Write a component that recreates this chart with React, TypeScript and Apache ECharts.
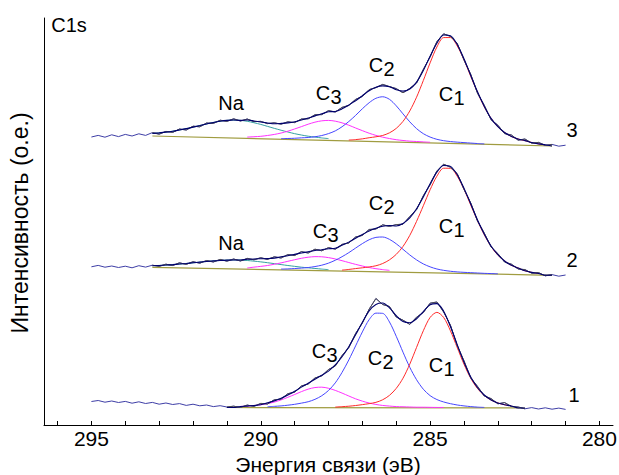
import React, { useEffect, useRef } from "react";
import * as echarts from "echarts";

// Binding energy grid (eV), shared by all spectra
const energies = [
  295, 294.8, 294.6, 294.4, 294.2, 294, 293.8, 293.6, 293.4, 293.2,
  293, 292.8, 292.6, 292.4, 292.2, 292, 291.8, 291.6, 291.4, 291.2,
  291, 290.8, 290.6, 290.4, 290.2, 290, 289.8, 289.6, 289.4, 289.2,
  289, 288.8, 288.6, 288.4, 288.2, 288, 287.8, 287.6, 287.4, 287.2,
  287, 286.8, 286.6, 286.4, 286.2, 286, 285.8, 285.6, 285.4, 285.2,
  285, 284.8, 284.6, 284.4, 284.2, 284, 283.8, 283.6, 283.4, 283.2,
  283, 282.8, 282.6, 282.4, 282.2, 282, 281.8, 281.6, 281.4, 281.2, 281,
];

const xTickLabels = [280, 285, 290, 295];
const xTicks = [280, 281, 282, 283, 284, 285, 286, 287, 288, 289, 290, 291, 292, 293, 294, 295, 296];

// ---------- Spectrum 1 (bottom) ----------
const s1Raw = [
  22.5, 23.5, 21.8, 23.0, 21.5, 22.6, 20.8, 22.2, 20.5, 21.6, 19.8, 21.0, 19.5, 20.4, 18.6, 19.8, 18.2, 19.0, 17.4, 18.3, 17.0,
  17.8, 16.6, 18.9, 17.6, 20.6, 20.0, 24.2, 24.9, 30.3, 31.8, 38.0, 40.0, 46.0, 48.2, 54.5, 58.0, 68.5, 76.5, 90.5, 101.0,
  114.8, 125.5, 119.5, 117.5, 107.0, 103.8, 99.6, 106.8, 111.5, 120.8, 122.0, 112.0, 98.8, 78.5, 63.2, 46.0, 37.6, 28.0, 25.4, 20.2,
  21.4, 17.5, 17.0, 15.2,
  16.4, 15.0, 16.2, 14.8, 15.9, 14.6,
];
const s1Baseline = [[291.0, 16.5], [282.2, 16.0]];
const s1C3Start = 22;
const s1C3 = [1.1, 1.4, 2.0, 2.8, 4.0, 5.5, 7.7, 10.3, 13.1, 16.0, 18.5, 20.1, 20.5, 19.4, 17.3, 14.6, 11.7, 8.9, 6.6, 4.7, 3.3, 2.3, 1.7, 1.2, 1.0, 0.8, 0.6, 0.6, 0.5, 0.4, 0.4];
const s1C2Start = 26;
const s1C2 = [0.8, 1.2, 1.7, 2.4, 3.3, 4.5, 5.9, 8.3, 11.9, 17.2, 24.8, 35.3, 47.8, 61.8, 75.8, 88.1, 94.6, 94.4, 85.8, 71.5, 55.6, 40.5, 28.1, 18.6, 12.2, 8.3, 5.9, 4.2, 2.9, 2.0, 1.3, 0.8, 0.5];
const s1C1Start = 36;
const s1C1 = [0.6, 1.0, 1.5, 2.2, 3.1, 4.1, 5.4, 8.0, 12.4, 19.4, 29.6, 43.7, 60.4, 77.1, 90.4, 95.5, 90.4, 77.1, 60.4, 43.7, 29.6, 19.4, 12.4, 8.0, 5.0, 3.2, 2.0];

// ---------- Spectrum 2 (middle) ----------
const s2Raw = [
  157.2, 158.6, 156.8, 158.0, 156.5, 157.8, 156.2, 158.3, 156.9,
  158.8, 157.6, 159.8, 158.5, 161.2, 159.6, 162.3, 160.8, 163.5, 162.0,
  164.6, 162.8, 165.0, 163.0, 165.6, 164.2, 166.3, 164.6, 167.2, 166.0,
  169.4, 168.5, 172.4, 171.0, 174.8, 173.2, 176.4, 174.8, 179.6, 181.0,
  187.0, 188.6, 194.5, 195.0, 199.2, 197.6, 199.4, 199.8, 207.5, 214.4,
  228.3, 239.2, 253.0, 259.8, 256.8, 250.4, 234.8, 221.0, 203.0, 190.8,
  177.0, 170.4, 162.0, 159.8, 155.0, 154.4, 150.8, 151.4, 148.2, 149.4,
  147.8, 149.0,
];
const s2Baseline = [[293.2, 156.7], [281.4, 148.7]];
const s2NaStart = 9;
const s2Na = [1.6, 2.0, 2.5, 3.1, 3.8, 4.5, 5.3, 6.1, 6.9, 7.6, 8.2, 8.7, 9.0, 9.0, 8.7, 8.2, 7.6, 6.9, 6.1, 5.3, 4.5, 3.8, 3.1, 2.6, 2.1, 1.6, 1.2];
const s2C3Start = 23;
const s2C3 = [1.2, 2.2, 3.1, 4.1, 5.5, 7.0, 8.7, 10.4, 12.0, 13.2, 13.9, 13.9, 13.2, 12.0, 10.4, 8.7, 7.0, 5.5, 4.1, 3.1, 2.3, 1.7];
const s2C2Start = 28;
const s2C2 = [0.8, 1.1, 1.6, 2.2, 2.9, 4.0, 5.5, 7.7, 10.7, 14.4, 18.6, 23.3, 27.9, 31.9, 34.4, 34.9, 32.7, 28.4, 23.0, 17.5, 12.7, 8.8, 6.0, 4.0, 2.8, 2.0, 1.5, 1.2, 1.0, 0.8, 0.6, 0.5, 0.4];
const s2C1Start = 37;
const s2C1 = [1.0, 1.8, 2.8, 3.7, 4.7, 6.0, 8.4, 12.2, 17.8, 25.9, 37.1, 51.2, 67.0, 83.1, 96.8, 104.9, 104.9, 97.2, 84.2, 68.6, 53.0, 39.2, 27.6, 19.1, 13.3, 9.2, 6.6, 4.0, 2.5, 1.5];

// ---------- Spectrum 3 (top) ----------
const s3Raw = [
  287.0, 288.6, 286.8, 289.2, 287.4, 289.6, 288.0, 290.2, 288.6,
  291.4, 289.8, 292.6, 291.6, 295.0, 294.0, 297.8, 297.2, 301.0, 300.6,
  303.8, 302.6, 305.2, 303.0, 305.0, 302.4, 302.6, 300.4, 301.2, 299.8,
  302.2, 301.4, 305.0, 305.2, 309.2, 309.4, 313.4, 312.0, 316.6, 318.6,
  324.6, 327.6, 334.4, 336.4, 339.6, 337.4, 335.4, 331.2, 335.6, 341.0,
  354.6, 367.2, 382.4, 390.2, 387.6, 380.6, 364.2, 349.6, 330.8, 318.6,
  304.2, 298.8, 290.4, 289.0, 283.8, 285.0, 280.8, 281.6, 278.6, 279.6,
  277.8, 278.8,
];
const s3Baseline = [[293.2, 288.0], [281.4, 278.0]];
const s3NaStart = 9;
const s3Na = [2.5, 3.3, 4.2, 5.3, 6.7, 8.2, 9.9, 11.6, 13.4, 15.1, 16.5, 17.5, 18.0, 17.8, 17.1, 15.8, 14.3, 12.5, 10.7, 9.0, 7.4, 5.9, 4.7, 3.7, 3.0, 2.3, 1.8];
const s3C3Start = 23;
const s3C3 = [1.3, 1.8, 2.4, 3.4, 4.6, 6.2, 8.2, 10.6, 13.1, 15.7, 17.9, 19.4, 20.0, 19.4, 17.9, 15.7, 13.1, 10.6, 8.2, 6.2, 4.6, 3.4, 2.4, 1.8, 1.3, 1.1, 0.9, 0.7];
const s3C2Start = 28;
const s3C2 = [0.6, 0.9, 1.3, 1.9, 2.4, 3.3, 4.7, 6.8, 9.7, 14.0, 19.4, 25.7, 32.5, 38.7, 43.3, 45.0, 42.6, 36.3, 28.4, 20.6, 14.0, 9.1, 5.9, 3.8, 2.6, 1.9, 1.5, 1.2, 0.9, 0.6, 0.4];
const s3C1Start = 38;
const s3C1 = [0.9, 1.5, 2.4, 3.7, 4.8, 6.3, 9.1, 13.7, 20.9, 31.5, 45.4, 62.3, 80.1, 96.1, 105.7, 105.9, 97.7, 83.9, 67.6, 51.7, 37.5, 26.1, 18.0, 12.3, 8.5, 6.1, 4.7, 3.0, 1.8, 1.0];

// ---------- styles ----------
const FONT = '"Liberation Sans", Arial, Helvetica, sans-serif';
const COLORS = {
  C1: "#ff2a2a",
  C2: "#4646ff",
  C3: "#ff30ff",
  Na: "#35a0a0",
  baseline: "#a09c40",
  rawTail: "#3e3ea6",
  rawFit: "#505050",
  envelope: "#00006e",
};

type Comp = { start: number; values: number[]; color: string };

function baselineAt(bl: number[][], e: number) {
  const [[e1, v1], [e2, v2]] = bl;
  return v1 + ((v2 - v1) * (e - e1)) / (e2 - e1);
}

function idxOf(e: number) {
  return energies.findIndex((x) => Math.abs(x - e) < 1e-6);
}

function buildSpectrum(raw: number[], bl: number[][], comps: Comp[]) {
  const from = idxOf(bl[0][0]);
  const to = idxOf(bl[1][0]);
  const common = { type: "line", symbol: "none", silent: true, animation: false };
  const series: any[] = [];
  series.push({ ...common, data: bl, lineStyle: { color: COLORS.baseline, width: 1.2 }, z: 2 });
  comps.forEach((c) => {
    series.push({
      ...common,
      smooth: 0.3,
      data: c.values.map((h, i) => {
        const e = energies[c.start + i];
        return [e, baselineAt(bl, e) + h];
      }),
      lineStyle: { color: c.color, width: 1 },
      z: 3,
    });
  });
  series.push({
    ...common,
    data: energies.map((e, k) => [e, raw[k]]),
    lineStyle: { color: COLORS.rawTail, width: 1 },
    z: 4,
  });
  const fitRaw: number[][] = [];
  const env: number[][] = [];
  for (let k = from; k <= to; k++) {
    const e = energies[k];
    fitRaw.push([e, raw[k]]);
    let sum = baselineAt(bl, e);
    comps.forEach((c) => {
      const i = k - c.start;
      if (i >= 0 && i < c.values.length) sum += c.values[i];
    });
    env.push([e, sum]);
  }
  series.push({ ...common, data: fitRaw, lineStyle: { color: COLORS.rawFit, width: 1 }, z: 5 });
  series.push({ ...common, smooth: 0.3, data: env, lineStyle: { color: COLORS.envelope, width: 1.1 }, z: 6 });
  return series;
}

// annotation label positions (pixels): [text, digit, x, y]
const peakLabels: [string, string, number, number][] = [
  ["C", "3", 323, 93], ["C", "2", 376, 65], ["C", "1", 446, 94],
  ["C", "3", 320, 231], ["C", "2", 376, 203], ["C", "1", 446, 226],
  ["C", "3", 319, 351], ["C", "2", 375, 358], ["C", "1", 436, 365],
];
const plainLabels: [string, number, number][] = [
  ["Na", 231, 103], ["Na", 231, 243],
  ["3", 572, 130], ["2", 572, 260], ["1", 574, 395],
  ["C1s", 69, 25],
];

function txt(text: string, x: number, y: number, size: number, extra: any = {}) {
  return {
    type: "text",
    x,
    y,
    silent: true,
    ...extra,
    style: {
      text,
      fill: "#000",
      font: `${size}px ${FONT}`,
      fontSize: size,
      fontFamily: FONT,
      textAlign: "center",
      textVerticalAlign: "middle",
      align: "center",
      verticalAlign: "middle",
    },
  };
}

export default function App() {
  const ref = useRef<HTMLDivElement>(null);
  useEffect(() => {
    document.body.style.margin = "0";
    if (!ref.current) return;
    const chart = echarts.init(ref.current, undefined, { renderer: "svg" });

    const series = [
      ...buildSpectrum(s1Raw, s1Baseline, [
        { start: s1C3Start, values: s1C3, color: COLORS.C3 },
        { start: s1C2Start, values: s1C2, color: COLORS.C2 },
        { start: s1C1Start, values: s1C1, color: COLORS.C1 },
      ]),
      ...buildSpectrum(s2Raw, s2Baseline, [
        { start: s2NaStart, values: s2Na, color: COLORS.Na },
        { start: s2C3Start, values: s2C3, color: COLORS.C3 },
        { start: s2C2Start, values: s2C2, color: COLORS.C2 },
        { start: s2C1Start, values: s2C1, color: COLORS.C1 },
      ]),
      ...buildSpectrum(s3Raw, s3Baseline, [
        { start: s3NaStart, values: s3Na, color: COLORS.Na },
        { start: s3C3Start, values: s3C3, color: COLORS.C3 },
        { start: s3C2Start, values: s3C2, color: COLORS.C2 },
        { start: s3C1Start, values: s3C1, color: COLORS.C1 },
      ]),
    ];

    const graphics: any[] = [];
    peakLabels.forEach(([c, d, x, y]) => {
      graphics.push(txt(c, x, y, 20));
      graphics.push(txt(d, x + 13, y + 4, 20));
    });
    plainLabels.forEach(([t, x, y]) => graphics.push(txt(t, x, y, 20)));
    graphics.push(txt("Интенсивность (о.е.)", 20, 223, 23, { rotation: Math.PI / 2 }));
    graphics.push(txt("Энергия связи (эВ)", 328, 464, 21));

    chart.setOption({
      animation: false,
      backgroundColor: "#fff",
      grid: { left: 44, right: 6, top: 18, bottom: 50, containLabel: false, outerBoundsMode: "none" },
      xAxis: {
        type: "value",
        inverse: true,
        min: 279.6,
        max: 296.4,
        axisLine: { show: true, onZero: false, lineStyle: { color: "#000", width: 1 } },
        axisTick: { show: true, inside: true, length: 4, customValues: xTicks, lineStyle: { color: "#000" } },
        axisLabel: { show: true, customValues: xTickLabels, fontSize: 21, fontFamily: FONT, color: "#000", margin: 3 },
        splitLine: { show: false },
      },
      yAxis: {
        type: "value",
        min: -1,
        max: 406,
        axisLine: { show: true, onZero: false, lineStyle: { color: "#000", width: 1 } },
        axisTick: { show: false },
        axisLabel: { show: false },
        splitLine: { show: false },
      },
      series,
      graphic: graphics,
    });
    return () => chart.dispose();
  }, []);
  return <div ref={ref} style={{ position: "fixed", left: 0, top: 0, width: 619, height: 475 }} />;
}
